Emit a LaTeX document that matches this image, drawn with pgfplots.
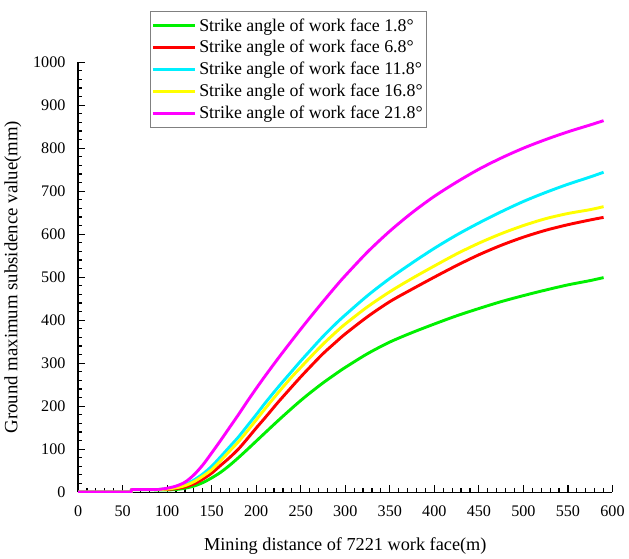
\documentclass[border=0pt]{standalone}
\usepackage{fontspec}
\setmainfont{Liberation Serif}
\usepackage{pgfplots}
\pgfplotsset{compat=1.18}

\definecolor{cgreen}{RGB}{0,240,0}
\definecolor{cred}{RGB}{255,0,0}
\definecolor{ccyan}{RGB}{0,240,255}
\definecolor{cyellow}{RGB}{255,255,0}
\definecolor{cmagenta}{RGB}{255,0,255}

\begin{document}
\begin{tikzpicture}
\begin{axis}[
  name=ax,
  scale only axis,
  width=404pt, height=325pt,
  xmin=0, xmax=600, ymin=0, ymax=1000,
  axis x line*=bottom, axis y line*=left,
  axis line style={-, line width=0.9pt},
  xtick distance=50, ytick distance=100,
  minor x tick num=4, minor y tick num=4,
  tick align=inside,
  major tick length=5pt, minor tick length=3pt,
  every tick/.style={black, line width=0.9pt},
  /pgf/number format/assume math mode=true,
  /pgf/number format/1000 sep={},
  tick label style={font=\fontsize{12.2}{14}\selectfont},
  xticklabel style={yshift=-6.5pt},
  yticklabel style={xshift=-6pt},
  xlabel style={font=\fontsize{13.8}{15}\selectfont},
  ylabel style={font=\fontsize{14.2}{16}\selectfont},
  xlabel shift=9pt, ylabel shift=2pt,
  xlabel={Mining distance of 7221 work face(m)},
  ylabel={Ground maximum subsidence value(mm)},
  legend style={at={(0.134,1.118)}, anchor=north west, draw=gray,
    line width=0.6pt, font=\fontsize{13.5}{15}\selectfont,
    row sep=1.5pt, inner xsep=1pt, inner ysep=3pt},
  legend cell align=left,
  legend image code/.code={\draw[#1, line width=2.2pt] (0pt,0pt) -- (32pt,0pt);},
  every axis plot/.append style={line width=2.2pt, line join=round},
]
% flat start and the small step at 60 m
\addplot[cgreen, forget plot] coordinates {(0,0) (59.5,0) (60,6) (100,5)};
\addplot[cred, forget plot] coordinates {(0,0) (59.5,0) (60,6) (100,6)};
\addplot[ccyan, forget plot] coordinates {(0,0) (59.5,0) (60,6) (90,6)};
\addplot[cyellow, forget plot] coordinates {(0,0) (59.5,0) (60,6) (90,6)};
\addplot[cmagenta, forget plot] coordinates {(0,0) (59.5,0) (60,6) (90,6)};

% angle 1.8
\addplot[cgreen, smooth] coordinates {
(100,5) (110,6) (120,9) (130,14) (140,22)
(150,33) (160,46) (170,62) (180,80) (190,99) (200,118.5) (210,138)
(225,167) (240,195) (250,213) (260,230) (275,254) (290,276) (300,290)
(325,322) (350,349) (375,371) (400,391) (425,410) (450,427) (475,443)
(500,457) (525,470) (550,482) (575,492) (590,499)};
\addlegendentry{Strike angle of work face 1.8°}
% angle 6.8
\addplot[cred, smooth] coordinates {
(100,6) (110,8) (120,12) (130,19) (140,30)
(150,44) (160,62) (170,80) (180,100) (190,124) (200,149) (210,173)
(225,210) (240,245) (250,268) (260,290) (275,322) (290,350) (300,368)
(325,408) (350,443) (375,472) (400,500) (425,527) (450,552) (475,574)
(500,593) (525,609) (550,622) (575,633) (590,639)};
\addlegendentry{Strike angle of work face 6.8°}
% angle 11.8
\addplot[ccyan, smooth] coordinates {
(90,6) (100,8) (110,11) (120,17) (130,28)
(140,42) (150,60) (160,82) (170,105) (180,128) (190,154) (200,180)
(210,207) (225,245) (240,281) (250,305) (260,328) (275,362) (290,393)
(300,412) (325,457) (350,497) (375,533) (400,567) (425,598) (450,626)
(475,652) (500,676) (525,697) (550,716) (575,733) (590,744)};
\addlegendentry{Strike angle of work face 11.8°}
% angle 16.8
\addplot[cyellow, smooth] coordinates {
(90,6) (100,7) (110,10) (120,15) (130,24)
(140,37) (150,52) (160,73) (170,95) (180,117) (190,142) (200,168)
(210,194) (225,232) (240,268) (250,290) (260,312) (275,344) (290,373)
(300,391) (325,431) (350,466) (375,497) (400,526) (425,554) (450,579)
(475,601) (500,620) (525,636) (550,648) (575,657) (590,664)};
\addlegendentry{Strike angle of work face 16.8°}
% angle 21.8
\addplot[cmagenta, smooth] coordinates {
(90,6) (100,9) (110,14) (120,23) (130,40)
(140,63) (150,91) (160,120) (170,150) (180,180) (190,211) (200,241)
(210,270) (225,312) (240,352.5) (250,379) (260,405) (275,443) (290,480)
(300,503.5) (325,558.5) (350,607) (375,650) (400,688) (425,721) (450,751)
(475,777) (500,800) (525,820) (550,838) (575,854) (590,864)};
\addlegendentry{Strike angle of work face 21.8°}
\end{axis}
% whitespace kept above the legend
\path (ax.north west) -- ++(0pt,47pt);
\end{tikzpicture}
\end{document}
